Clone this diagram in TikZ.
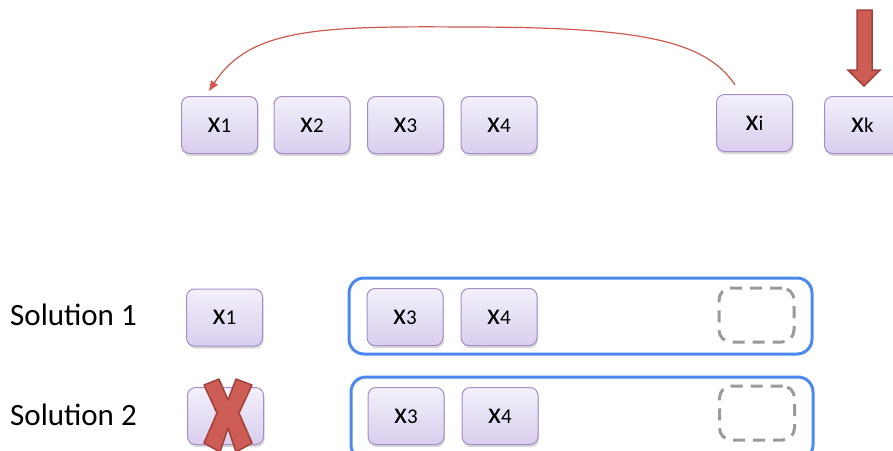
\documentclass[tikz,border=0pt]{standalone}
\usepackage{fontspec}
\setmainfont{Carlito}
\usetikzlibrary{shadows,arrows.meta}

\definecolor{boxborder}{HTML}{A58DC6}
\definecolor{boxtop}{HTML}{F3F0FA}
\definecolor{boxbottom}{HTML}{D9CEEE}
\definecolor{redfill}{HTML}{CD5C55}
\definecolor{redline}{HTML}{A0413B}
\definecolor{curvecol}{HTML}{CC5A50}
\definecolor{groupblue}{HTML}{4D88F0}
\definecolor{slotgray}{HTML}{9A9A9A}

% variable name: large x with a small index on the same baseline
\newcommand\varlabel[1]{\raisebox{-5pt}{\fontsize{30}{36}\selectfont x\fontsize{21}{24}\selectfont #1}}

\tikzset{
  varbox/.style={rounded corners=8pt, draw=boxborder, line width=1pt,
    top color=boxtop, bottom color=boxbottom,
    minimum width=76pt, minimum height=57pt, inner sep=0pt,
    drop shadow={shadow xshift=1pt, shadow yshift=-2.5pt, opacity=0.22, fill=black!70}},
  groupbox/.style={rounded corners=15pt, draw=groupblue, line width=3pt, inner sep=0pt},
  slotbox/.style={rounded corners=12pt, draw=slotgray, line width=3pt,
    dash pattern=on 12pt off 8pt, minimum width=75pt, minimum height=54pt, inner sep=0pt},
  sollabel/.style={anchor=base west, inner sep=0pt, font=\fontsize{31}{36}\selectfont},
  bigarrow/.style={fill=redfill, draw=redline, line width=1.5pt, line join=miter},
}

\begin{document}
\begin{tikzpicture}[x=1pt, y=-1pt]
\useasboundingbox (0,0) rectangle (893,450);

% top row of variables
\node[varbox] (a1) at (219.5,125) {\varlabel{1}};
\node[varbox] (a2) at (312,125) {\varlabel{2}};
\node[varbox] (a3) at (405.5,125) {\varlabel{3}};
\node[varbox] (a4) at (499,125) {\varlabel{4}};
\node[varbox] (ai) at (754.5,123) {\varlabel{i}};
\node[varbox] (ak) at (862.5,125) {\varlabel{k}};

% move x_i to the front
\coordinate (cstart) at (735,85);
\coordinate (cmid) at (465,27);
\coordinate (cend) at (209,91);
\draw[curvecol, line width=1.2pt, -{Triangle[length=10pt, width=8pt]}]
  (cstart) .. controls (705,40) and (640,27) .. (cmid)
           .. controls (320,26) and (250,28) .. (cend);

% incoming element x_k
\coordinate (ktip) at (864,86);
\draw[bigarrow] (857,10) -- (872,10) -- (872,70) -- (880,70) -- (ktip)
  -- (848,70) -- (857,70) -- cycle;

% solution 1
\node[sollabel] (s1) at (10,325) {Solution 1};
\node[varbox] (b1) at (224.5,317.5) {\varlabel{1}};
\node[groupbox, minimum width=463pt, minimum height=76pt] (g1) at (580.5,316) {};
\node[varbox] (b3) at (405,317) {\varlabel{3}};
\node[varbox] (b4) at (499,317) {\varlabel{4}};
\node[slotbox] (e1) at (756.5,315) {};

% solution 2
\node[sollabel] (s2) at (10,425) {Solution 2};
\node[varbox] (c1) at (225.5,416) {\varlabel{1}};
\node[groupbox, minimum width=462pt, minimum height=83pt] (g2) at (582,418.5) {};
\node[varbox] (c3) at (406,416) {\varlabel{3}};
\node[varbox] (c4) at (500,416) {\varlabel{4}};
\node[slotbox] (e2) at (757,413) {};

% cross over the rejected x_1
\draw[bigarrow, line join=round]
  (219,379) -- (228,400) -- (236,379) -- (252,385) -- (239,413) -- (252,443)
  -- (236,452) -- (228,428) -- (220,452) -- (204,443) -- (217,413) -- (204,385) -- cycle;
\end{tikzpicture}
\end{document}
